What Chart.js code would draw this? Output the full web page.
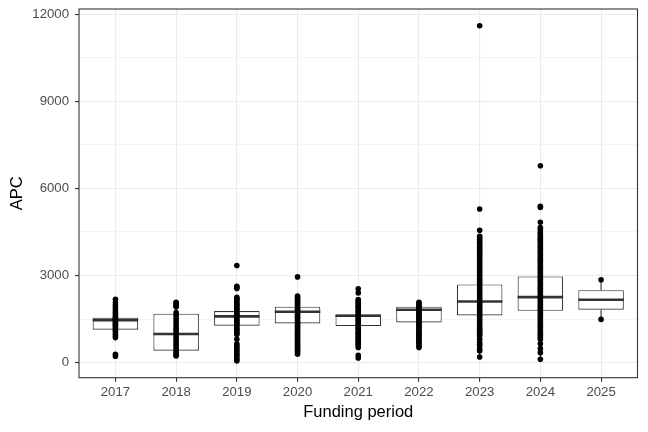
<!DOCTYPE html>
<html>
<head>
<meta charset="utf-8">
<script src="https://cdn.jsdelivr.net/npm/chart.js@4.4.0/dist/chart.umd.min.js"></script>
<style>
  html, body { margin: 0; padding: 0; background: #fff; }
  #wrap { width: 648px; height: 432px; position: relative; }
</style>
</head>
<body>
<div id="wrap"><canvas id="apcChart"></canvas></div>
<script>
// funding periods and box statistics
const years = [2017, 2018, 2019, 2020, 2021, 2022, 2023, 2024, 2025];
const q1 = [1134, 412, 1271, 1350, 1257, 1384, 1625, 1786, 1821];
const medians = [1464, 983, 1590, 1752, 1615, 1821, 2106, 2254, 2164];
const q3 = [1545, 1683, 1773, 1924, 1659, 1924, 2690, 2965, 2494];
const whiskerLow = [860, 220, 580, 490, 670, 580, 230, 140, 1487];
const whiskerHigh = [2060, 2080, 2250, 2290, 2170, 2080, 4230, 4650, 2851];

// individual APC values per period
const apc2017 = [2180, 2060, 1970, 1880, 1810, 1730, 1660, 1590, 1540, 1500, 1470, 1430, 1380, 1340, 1290, 1240, 1180, 1120, 1070, 990, 930, 860, 290, 220];
const apc2018 = [2080, 2040, 1990, 1950, 1920, 1720, 1630, 1530, 1440, 1360, 1270, 1180, 1110, 1020, 950, 860, 780, 710, 630, 550, 470, 390, 320, 260, 225];
const apc2019 = [3340, 2630, 2590, 2550, 2250, 2200, 2160, 2110, 2050, 2000, 1960, 1900, 1850, 1810, 1760, 1700, 1650, 1610, 1560, 1500, 1450, 1410, 1350, 1300, 1260, 1200, 1150, 1110, 1050, 1000, 970, 800, 650, 590, 530, 460, 400, 340, 280, 230, 160, 100, 55];
const apc2020 = [2950, 2290, 2240, 2190, 2150, 2090, 2040, 1990, 1950, 1890, 1840, 1800, 1740, 1690, 1650, 1590, 1540, 1500, 1440, 1390, 1350, 1290, 1240, 1190, 1140, 1090, 1040, 990, 940, 890, 840, 790, 740, 690, 640, 590, 540, 490, 440, 390, 340, 285];
const apc2021 = [2540, 2400, 2170, 2120, 2070, 2030, 1970, 1920, 1880, 1820, 1770, 1730, 1670, 1620, 1580, 1520, 1470, 1430, 1370, 1320, 1280, 1220, 1170, 1130, 1070, 1020, 980, 920, 870, 830, 770, 720, 680, 620, 570, 520, 250, 160];
const apc2022 = [2080, 2030, 1980, 1940, 1880, 1830, 1790, 1730, 1680, 1640, 1580, 1530, 1490, 1430, 1380, 1340, 1280, 1230, 1190, 1130, 1080, 1040, 980, 930, 890, 830, 780, 730, 690, 640, 580, 520];
const apc2023 = [11600, 5290, 4555, 4350, 4290, 4240, 4170, 4110, 4030, 3970, 3900, 3830, 3760, 3700, 3620, 3560, 3480, 3410, 3340, 3280, 3200, 3130, 3060, 3000, 2920, 2850, 2780, 2720, 2640, 2570, 2500, 2440, 2360, 2290, 2220, 2160, 2080, 2010, 1940, 1880, 1800, 1730, 1660, 1600, 1520, 1450, 1380, 1320, 1240, 1170, 1144, 1080, 1030, 972, 915, 800, 690, 629, 570, 457, 400, 192];
const apc2024 = [6780, 5380, 5340, 4830, 4650, 4580, 4500, 4440, 4370, 4310, 4250, 4190, 4130, 4060, 4000, 3940, 3870, 3810, 3750, 3690, 3620, 3560, 3500, 3440, 3370, 3310, 3250, 3190, 3120, 3060, 3000, 2940, 2870, 2810, 2750, 2690, 2620, 2560, 2500, 2440, 2370, 2310, 2250, 2190, 2120, 2060, 2000, 1940, 1870, 1810, 1750, 1690, 1620, 1560, 1500, 1440, 1370, 1310, 1250, 1190, 1120, 1060, 1000, 940, 870, 800, 652, 481, 343, 113];
const apc2025 = [2851, 1487];
const apcByYear = [apc2017, apc2018, apc2019, apc2020, apc2021, apc2022, apc2023, apc2024, apc2025];

const yTicks = [0, 1500, 3000, 4500, 6000, 7500, 9000, 10500, 12000];
const yLabelTicks = [0, 3000, 6000, 9000, 12000];

const boxWidth = 0.75; // in funding-period units, like geom_boxplot
const axisFont = { family: "'Liberation Sans', Arial, sans-serif", size: 13.2 };
const titleFont = { family: "'Liberation Sans', Arial, sans-serif", size: 16.5 };

// build the plotted data from the arrays
const pointData = [];
apcByYear.forEach((vals, i) => {
    vals.forEach(v => pointData.push({ x: years[i], y: v }));
});

const boxData = years.map((yr, i) => ({ x: yr, y: [q1[i], q3[i]] }));

const medianData = [];
const whiskerData = [];
years.forEach((yr, i) => {
    medianData.push({ x: yr - boxWidth / 2, y: medians[i] });
    medianData.push({ x: yr + boxWidth / 2, y: medians[i] });
    medianData.push({ x: yr, y: null });
    whiskerData.push({ x: yr, y: q3[i] });
    whiskerData.push({ x: yr, y: whiskerHigh[i] });
    whiskerData.push({ x: yr, y: null });
    whiskerData.push({ x: yr, y: q1[i] });
    whiskerData.push({ x: yr, y: whiskerLow[i] });
    whiskerData.push({ x: yr, y: null });
});

// panel border drawn over everything, like theme_bw
const panelBorder = {
    id: 'panelBorder',
    afterDraw(chart) {
        const { ctx, chartArea: a } = chart;
        ctx.save();
        ctx.strokeStyle = '#333333';
        ctx.lineWidth = 1.1;
        ctx.strokeRect(a.left, a.top, a.right - a.left, a.bottom - a.top);
        ctx.restore();
    }
};

new Chart(document.getElementById('apcChart'), {
    type: 'bar',
    data: {
        datasets: [
            {
                type: 'scatter',
                data: pointData,
                pointRadius: 2.8,
                pointBackgroundColor: '#000000',
                pointBorderWidth: 0,
                order: 0
            },
            {
                type: 'line',
                data: medianData,
                borderColor: '#333333',
                borderWidth: 2.6,
                pointRadius: 0,
                spanGaps: false,
                fill: false,
                order: 1
            },
            {
                type: 'bar',
                data: boxData,
                backgroundColor: '#ffffff',
                borderColor: '#333333',
                borderWidth: 1.1,
                borderSkipped: false,
                inflateAmount: 0,
                barPercentage: boxWidth,
                categoryPercentage: 1,
                order: 2
            },
            {
                type: 'line',
                data: whiskerData,
                borderColor: '#333333',
                borderWidth: 1.1,
                pointRadius: 0,
                spanGaps: false,
                fill: false,
                order: 3
            }
        ]
    },
    options: {
        responsive: true,
        maintainAspectRatio: false,
        animation: false,
        layout: { padding: { top: 9, right: 10.5, left: 0, bottom: 0 } },
        plugins: {
            legend: { display: false },
            tooltip: { enabled: false }
        },
        scales: {
            x: {
                type: 'linear',
                offset: false,
                min: 2016.4,
                max: 2025.6,
                afterBuildTicks: scale => { scale.ticks = years.map(v => ({ value: v })); },
                afterFit: scale => { scale.height = 54.3; scale.paddingLeft = 0; scale.paddingRight = 0; },
                border: { display: false },
                grid: { offset: false, color: '#EBEBEB', lineWidth: 1.1, tickColor: '#333333', tickWidth: 1.1, tickLength: 4 },
                ticks: { color: '#4D4D4D', font: axisFont, padding: 3, autoSkip: false, maxRotation: 0, callback: v => String(v) },
                title: { display: true, text: 'Funding period', color: '#000000', font: titleFont, padding: { top: 0, bottom: 10 } }
            },
            y: {
                type: 'linear',
                min: -520,
                max: 12175,
                afterBuildTicks: scale => { scale.ticks = yTicks.map(v => ({ value: v })); },
                afterFit: scale => { scale.width = 79; scale.paddingTop = 0; scale.paddingBottom = 0; },
                border: { display: false },
                grid: {
                    color: '#EBEBEB',
                    lineWidth: ctx => (yLabelTicks.includes(ctx.tick.value) ? 1.1 : 0.55),
                    tickColor: ctx => (yLabelTicks.includes(ctx.tick.value) ? '#333333' : 'rgba(0,0,0,0)'),
                    tickWidth: 1.1,
                    tickLength: 4
                },
                ticks: {
                    color: '#4D4D4D',
                    font: axisFont,
                    padding: 6,
                    autoSkip: false,
                    callback: v => (yLabelTicks.includes(v) ? String(v) : '')
                },
                title: { display: true, text: 'APC', color: '#000000', font: titleFont, padding: { top: 8, bottom: 0 } }
            }
        }
    },
    plugins: [panelBorder]
});
</script>
</body>
</html>
